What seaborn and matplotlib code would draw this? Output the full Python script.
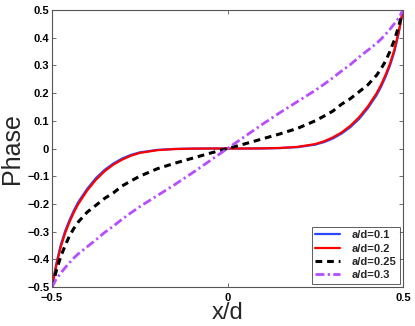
import matplotlib
matplotlib.use("Agg")
import matplotlib.pyplot as plt
import pandas as pd
import seaborn as sns

# x/d sample positions
x_pos = [-0.5, -0.4875, -0.475, -0.4625, -0.45, -0.4375, -0.425, -0.4, -0.375,
         -0.35, -0.325, -0.3, -0.275, -0.25, -0.2, -0.15, -0.1, -0.05, 0.0,
         0.05, 0.1, 0.15, 0.2, 0.25, 0.275, 0.3, 0.325, 0.35, 0.375, 0.4,
         0.425, 0.4375, 0.45, 0.4625, 0.475, 0.4875, 0.5]

# phase per curve
phase_01 = [-0.5, -0.415, -0.348, -0.298, -0.258, -0.223, -0.193, -0.146, -0.107,
            -0.077, -0.054, -0.036, -0.023, -0.014, -0.005, -0.0015, -0.0004, 0.0, 0.0,
            0.0, 0.0004, 0.0015, 0.005, 0.014, 0.023, 0.036, 0.054, 0.077, 0.107, 0.146,
            0.193, 0.223, 0.258, 0.298, 0.348, 0.415, 0.5]
phase_02 = [-0.5, -0.42, -0.355, -0.305, -0.265, -0.23, -0.2, -0.152, -0.113,
            -0.082, -0.058, -0.04, -0.026, -0.016, -0.006, -0.002, -0.0005, 0.0, 0.0,
            0.0, 0.0005, 0.002, 0.006, 0.016, 0.026, 0.04, 0.058, 0.082, 0.113, 0.152,
            0.2, 0.23, 0.265, 0.305, 0.355, 0.42, 0.5]
phase_025 = [-0.5, -0.44, -0.39, -0.35, -0.315, -0.288, -0.265, -0.23, -0.205,
             -0.18, -0.16, -0.135, -0.117, -0.1, -0.073, -0.053, -0.035, -0.017, 0.0,
             0.017, 0.035, 0.053, 0.073, 0.1, 0.117, 0.135, 0.16, 0.18, 0.205, 0.23,
             0.265, 0.288, 0.315, 0.35, 0.39, 0.44, 0.5]
phase_03 = [-0.5, -0.47, -0.45, -0.43, -0.412, -0.395, -0.38, -0.355, -0.33,
            -0.303, -0.28, -0.255, -0.232, -0.21, -0.17, -0.13, -0.088, -0.044, 0.0,
            0.044, 0.088, 0.13, 0.17, 0.21, 0.232, 0.255, 0.28, 0.303, 0.33, 0.355,
            0.38, 0.395, 0.412, 0.43, 0.45, 0.47, 0.5]

labels = ["a/d=0.1", "a/d=0.2", "a/d=0.25", "a/d=0.3"]
series = [phase_01, phase_02, phase_025, phase_03]
colors = ["#2a48ff", "#ff0000", "#000000", "#b84cff"]
styles = ["-", "-", (0, (2.2, 1.6)), (0, (3.2, 1.2, 0.8, 1.2))]
widths = [1.6, 1.6, 2.2, 2.0]

sns.set_style("ticks")
plt.rcParams["font.family"] = ["Liberation Sans", "DejaVu Sans"]

fig = plt.figure(figsize=(4.15, 3.26), dpi=100)
ax = fig.add_axes([0.1253, 0.1196, 0.8458, 0.8497])

for lab, vals, col, ls, lw in zip(labels, series, colors, styles, widths):
    df = pd.DataFrame({"x": x_pos, "phase": vals})
    sns.lineplot(data=df, x="x", y="phase", ax=ax, color=col, linestyle=ls,
                 linewidth=lw, label=lab, sort=True)

ax.set_xlim(-0.5, 0.5)
ax.set_ylim(-0.5, 0.5)
ax.set_xticks([-0.5, 0, 0.5])
ax.set_xticklabels(["\u22120.5", "0", "0.5"])
yt = [-0.5, -0.4, -0.3, -0.2, -0.1, 0, 0.1, 0.2, 0.3, 0.4, 0.5]
ax.set_yticks(yt)
ax.set_yticklabels([("\u2212%.1f" % -v) if v < 0 else ("0" if v == 0 else "%.1f" % v) for v in yt])
ax.tick_params(direction="in", length=3, width=0.6, top=True, right=True,
               labelsize=8, pad=2, colors="#555555", labelcolor="black")
ax.tick_params(axis="x", pad=4.5)
for t in ax.get_xticklabels() + ax.get_yticklabels():
    t.set_fontweight("bold")
for s in ax.spines.values():
    s.set_color("#555555")
    s.set_linewidth(0.8)

ax.set_xlabel("x/d", fontsize=17, labelpad=-1)
ax.set_ylabel("Phase", fontsize=18, labelpad=2)

leg = ax.legend(loc="lower right", frameon=True, fancybox=False,
                handlelength=2.3, handletextpad=1.0, borderpad=0.3,
                labelspacing=0.3, borderaxespad=0.3,
                prop={"weight": "bold", "size": 8})
leg.get_frame().set_edgecolor("#333333")
leg.get_frame().set_linewidth(0.7)

fig.savefig("out.png", dpi=100)
